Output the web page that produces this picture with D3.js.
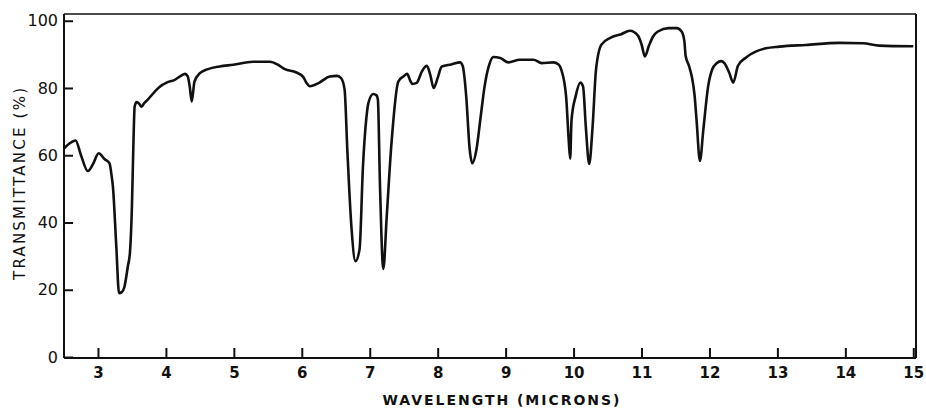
<!DOCTYPE html>
<html>
<head>
<meta charset="utf-8">
<script src="https://cdnjs.cloudflare.com/ajax/libs/d3/7.8.5/d3.min.js"></script>
<style>
    body { margin: 0; background: #fff; }
    #chart { width: 926px; height: 409px; }
    .tick text { font-family: "DejaVu Sans", sans-serif; fill: #111; }
    .y_tick text { font-size: 16px; }
    .x_tick text { font-size: 15px; font-weight: bold; }
    .tick line { stroke: #111; stroke-width: 2px; }
    .frame { stroke: #111; fill: none; }
    .spectrum { fill: none; stroke: #111; stroke-width: 2.6px; stroke-linejoin: round; }
    .axis_title { font-family: "DejaVu Sans", sans-serif; fill: #111; }
</style>
</head>
<body>
<div id="chart"></div>
<script>
// spectrum: wavelength (microns) vs transmittance (%)
const wavelength = [
    2.50, 2.58, 2.67, 2.75, 2.85, 2.93, 3.01, 3.10, 3.17, 3.20, 3.22, 3.27, 3.31, 3.35, 3.39,
    3.44, 3.47, 3.50, 3.52, 3.54, 3.57, 3.61, 3.64, 3.68, 3.74, 3.83, 3.91, 4.01, 4.13, 4.22,
    4.28, 4.32, 4.35, 4.38, 4.42, 4.50, 4.62, 4.79, 4.99, 5.28, 5.53, 5.65, 5.75, 5.92, 6.02,
    6.07, 6.12, 6.26, 6.41, 6.52, 6.58, 6.63, 6.67, 6.73, 6.79, 6.85, 6.90, 6.95, 6.98, 7.05,
    7.10, 7.12, 7.15, 7.20, 7.25, 7.32, 7.42, 7.50, 7.55, 7.60, 7.63, 7.69, 7.77, 7.84, 7.89,
    7.94, 8.00, 8.06, 8.20, 8.33, 8.37, 8.42, 8.47, 8.51, 8.57, 8.63, 8.69, 8.76, 8.82, 8.92,
    9.04, 9.21, 9.41, 9.53, 9.70, 9.78, 9.82, 9.89, 9.93, 9.95, 9.97, 10.03, 10.10, 10.14, 10.18,
    10.23, 10.28, 10.33, 10.41, 10.54, 10.70, 10.83, 10.95, 11.00, 11.05, 11.11, 11.17, 11.24, 11.40, 11.52,
    11.59, 11.63, 11.65, 11.70, 11.74, 11.78, 11.81, 11.86, 11.91, 11.98, 12.04, 12.11, 12.17, 12.22, 12.29,
    12.35, 12.42, 12.54, 12.68, 12.83, 13.03, 13.42, 13.91, 14.26, 14.50, 15.00
];
const transmittance = [
    62.0, 63.5, 64.4, 60.0, 55.3, 57.5, 60.6, 58.8, 57.6, 54.0, 50.7, 32.8, 19.0, 19.3, 20.9,
    27.0, 30.9, 45.0, 62.0, 74.5, 75.8, 75.2, 74.4, 75.5, 76.7, 78.8, 80.4, 81.6, 82.4, 83.6,
    84.2, 83.5, 80.5, 76.0, 81.9, 84.4, 85.6, 86.4, 86.9, 87.8, 87.8, 86.9, 85.6, 84.6, 83.3,
    81.5, 80.5, 81.6, 83.4, 83.6, 82.9, 79.5, 61.6, 38.8, 28.5, 32.0, 56.6, 71.0, 75.5, 78.2,
    77.8, 76.5, 51.7, 26.2, 41.8, 63.6, 81.9, 83.5, 84.2, 82.0, 81.2, 81.5, 85.0, 86.6, 84.0,
    80.0, 83.0, 86.4, 87.0, 87.6, 86.4, 77.5, 62.0, 57.6, 61.6, 71.0, 80.4, 87.0, 89.2, 88.9,
    87.6, 88.4, 88.4, 87.4, 87.6, 87.0, 85.4, 77.5, 64.0, 59.0, 70.5, 77.5, 81.6, 80.4, 68.5,
    57.4, 68.5, 85.4, 92.9, 94.9, 96.0, 97.0, 95.5, 93.0, 89.4, 92.6, 95.3, 96.8, 97.8, 97.8,
    96.8, 94.0, 89.5, 86.5, 83.4, 78.0, 70.5, 58.3, 67.6, 80.4, 85.5, 87.4, 88.0, 87.4, 84.6,
    81.6, 86.6, 89.1, 90.8, 91.8, 92.3, 92.8, 93.4, 93.3, 92.6, 92.4
];
const x_ticks = [3, 4, 5, 6, 7, 8, 9, 10, 11, 12, 13, 14, 15];
const y_ticks = [0, 20, 40, 60, 80, 100];
const x_title = "WAVELENGTH (MICRONS)";
const y_title = "TRANSMITTANCE (%)";

const src = wavelength.map(function (w, i) {
    return {w: w, t: transmittance[i]};
});

const margin = {top: 14, right: 10, bottom: 52, left: 64};
let width = 926 - margin.left - margin.right,
    height = 409 - margin.top - margin.bottom;

let svg = d3.select("#chart")
    .append("svg")
    .attr("width", width + margin.left + margin.right)
    .attr("height", height + margin.top + margin.bottom)
    .append("g")
    .attr("transform", "translate(" + margin.left + "," + margin.top + ")");

let x = d3.scaleLinear()
    .domain([2.5, 15.04])
    .range([0, width]);

let y = d3.scaleLinear()
    .domain([0, 102])
    .range([height, 0]);

svg.append("g")
    .attr("transform", "translate(0, " + height + ")")
    .attr("class", "x_tick")
    .call(d3.axisBottom(x)
        .tickValues(x_ticks)
        .tickSizeInner(-9)
        .tickSizeOuter(0)
        .tickPadding(10)
        .tickFormat(d3.format("d"))
    )
    .select(".domain").remove();

svg.append("g")
    .attr("class", "y_tick")
    .call(d3.axisLeft(y)
        .tickValues(y_ticks)
        .tickSizeInner(-9)
        .tickSizeOuter(0)
        .tickPadding(6)
    )
    .select(".domain").remove();

// frame: heavy left / bottom / right, light top
svg.append("line").attr("class", "frame")
    .attr("x1", 0).attr("x2", 0).attr("y1", 0).attr("y2", height + 1)
    .style("stroke-width", 2);
svg.append("line").attr("class", "frame")
    .attr("x1", 0).attr("x2", width).attr("y1", height + 1).attr("y2", height + 1)
    .style("stroke-width", 2);
svg.append("line").attr("class", "frame")
    .attr("x1", width).attr("x2", width).attr("y1", 0).attr("y2", height + 1)
    .style("stroke-width", 2);
svg.append("line").attr("class", "frame")
    .attr("x1", 0).attr("x2", width).attr("y1", 0).attr("y2", 0)
    .style("stroke-width", 1.5);

svg.append("path")
    .datum(src)
    .attr("class", "spectrum")
    .attr("d", d3.line()
        .curve(d3.curveMonotoneX)
        .x(function (d) {
            return x(d.w)
        })
        .y(function (d) {
            return y(d.t)
        })
    );

svg.append("text")
    .attr("class", "axis_title")
    .attr("x", 437)
    .attr("y", height + 48)
    .attr("text-anchor", "middle")
    .attr("textLength", 237)
    .attr("lengthAdjust", "spacing")
    .style("font-size", "14px")
    .style("font-weight", "bold")
    .text(x_title);

svg.append("text")
    .attr("class", "axis_title")
    .attr("x", -(184 - margin.top))
    .attr("y", 0)
    .attr("transform", "translate(-39, 0) rotate(-90)")
    .attr("text-anchor", "middle")
    .attr("textLength", 192)
    .attr("lengthAdjust", "spacing")
    .style("font-size", "15px")
    .text(y_title);
</script>
</body>
</html>
